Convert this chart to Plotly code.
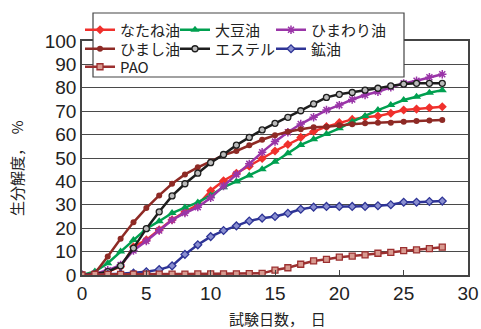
import plotly.graph_objects as go

# Test days 0..28
days = list(range(0, 29))

# Biodegradability (%) per lubricant base oil
rapeseed = [0, 0.5, 1.5, 3.5, 12, 15, 19.3, 23.6, 27, 30, 36, 40.3, 43.5, 46.5, 49.8,
            53, 55.8, 58.8, 61.3, 63.4, 65.1, 66.5, 67.4, 67.9, 69.1, 70.5, 70.9, 71.5, 71.9]
soybean = [0, 1.5, 5, 10, 15, 19.8, 23, 26.5, 28.8, 31, 34, 37.5, 40, 42.5, 45.2,
           48.4, 52, 55.6, 58, 60.3, 62.7, 65.5, 68, 70.5, 72.6, 74.8, 76.2, 77.9, 79]
sunflower = [0, 0.5, 2, 4.3, 10.5, 14.5, 19, 23.5, 26.5, 29, 33, 38, 43, 47.5, 52.5,
             57, 61, 64.5, 67.4, 70.5, 72.6, 75, 76.9, 78.3, 80.2, 81.9, 83, 84.5, 85.8]
castor = [0, 0.7, 7.9, 15.5, 22.5, 28.6, 34, 39, 43, 46, 48.5, 51.3, 53, 55.5, 57.8,
          59.7, 61.2, 62.3, 63.1, 63.4, 64, 64.4, 64.8, 65.1, 65.1, 65.5, 65.8, 66, 66.2]
ester = [0, 0.3, 1.4, 3.9, 11.5, 19.8, 27, 33.8, 39, 43.5, 48, 51.5, 55.5, 58.8, 62,
         64.8, 67.4, 70.2, 73.1, 75.9, 77.2, 78, 79, 79.8, 80.8, 81.6, 81.9, 81.9, 81.9]
mineral = [0, 0, 0.3, 0.5, 0.8, 1.4, 2.3, 3.9, 8.8, 12.9, 16.4, 19, 21, 23.1, 24.3,
           25, 26.4, 28.1, 29, 29.3, 29.3, 29.3, 29.3, 29.6, 30, 31.1, 31.1, 31.4, 31.6]
pao = [0, 0.3, 0.3, 0.3, 0.4, 0.4, 0.4, 0.4, 0.4, 0.5, 0.5, 0.5, 0.5, 0.6, 0.7,
       2.1, 3.1, 4.6, 6, 6.7, 7.6, 8.1, 8.6, 9.3, 9.7, 10.4, 10.7, 11.3, 11.9]

x_ticks = [0, 5, 10, 15, 20, 25, 30]
y_ticks = list(range(0, 101, 10))

# plot area in pixels: x 82..468, y 41..275
L, R, T, B = 82, 468, 41, 275
W, H = 481, 329


def px_x(p):
    return (p - L) / (R - L)


def px_y(p):
    return (B - p) / (B - T)


# legend grid: column left edges and row centres (pixels)
col_x = [80, 175, 271]
row_y = [30, 49, 67]

# (name, values, line colour, marker, legend column, legend row)
series = [
    ("なたね油", rapeseed, "#F0302C", dict(symbol="diamond", size=7, color="#F0302C"), 0, 0),
    ("大豆油", soybean, "#00A050", dict(symbol="triangle-up", size=8, color="#00A050"), 1, 0),
    ("ひまわり油", sunflower, "#9A35A8",
     dict(symbol="asterisk-open", size=7, color="#9A35A8", line=dict(width=1.5, color="#9A35A8")), 2, 0),
    ("ひまし油", castor, "#8E2A25", dict(symbol="circle", size=6, color="#8E2A25"), 0, 1),
    ("エステル", ester, "#1E1E1E",
     dict(symbol="circle", size=6, color="#BBBBBB", line=dict(width=1.3, color="#1E1E1E")), 1, 1),
    ("鉱油", mineral, "#2E3496",
     dict(symbol="diamond", size=6, color="#8A8FD0", line=dict(width=1.3, color="#2E3496")), 2, 1),
    ("PAO", pao, "#9C3030",
     dict(symbol="square", size=6, color="#D89A90", line=dict(width=1.3, color="#9C3030")), 0, 2),
]

num_font = "Liberation Sans, Arial, sans-serif"
jp_font = "Noto Sans CJK JP, sans-serif"

fig = go.Figure()
legends = {}
for i, (name, vals, col, mk, c, r) in enumerate(series):
    key = "legend" if i == 0 else f"legend{i + 1}"
    fig.add_trace(go.Scatter(
        x=days, y=vals, name=name, mode="lines+markers",
        line=dict(color=col, width=2.5), marker=mk, legend=key,
    ))
    legends[key] = dict(
        orientation="v", xanchor="left", yanchor="middle",
        x=px_x(col_x[c]), yref="container", y=1 - row_y[r] / H,
        bgcolor="rgba(0,0,0,0)", borderwidth=0, tracegroupgap=0,
        font=dict(size=15, family=jp_font, color="#222"),
    )

fig.update_layout(
    width=W, height=H,
    margin=dict(l=L, r=W - R, t=T, b=H - B, autoexpand=False),
    paper_bgcolor="white", plot_bgcolor="white",
    font=dict(family=num_font, color="#222"),
    showlegend=True,
    xaxis=dict(
        range=[0, 30], tickvals=x_ticks, automargin=False,
        showgrid=False, zeroline=False,
        showline=True, linecolor="#444", linewidth=1.5, mirror=True,
        ticks="inside", ticklen=5, tickcolor="#444",
        tickfont=dict(size=19, family=num_font, color="#222"),
    ),
    yaxis=dict(
        range=[0, 100], tickvals=y_ticks, automargin=False,
        showgrid=True, gridcolor="#4a4a4a", gridwidth=1, zeroline=False,
        showline=True, linecolor="#444", linewidth=1.5, mirror=True,
        ticks="", tickfont=dict(size=19, family=num_font, color="#222"),
    ),
    shapes=[
        # legend frame, opaque over the curves
        dict(type="rect", xref="paper", yref="paper", layer="above",
             x0=px_x(93), x1=px_x(404), y0=px_y(77), y1=px_y(13),
             fillcolor="white", line=dict(color="#444", width=1.2)),
    ],
    annotations=[
        dict(text="試験日数，  日", xref="paper", yref="paper",
             x=px_x(277), y=px_y(318), xanchor="center", yanchor="middle",
             showarrow=False, font=dict(size=15, family=jp_font, color="#222")),
        dict(text="生分解度，  %", xref="paper", yref="paper",
             x=px_x(16), y=px_y(168), xanchor="center", yanchor="middle",
             textangle=-90, showarrow=False,
             font=dict(size=15, family=jp_font, color="#222")),
    ],
)
fig.update_layout(**legends)

fig.write_html("out.html")
